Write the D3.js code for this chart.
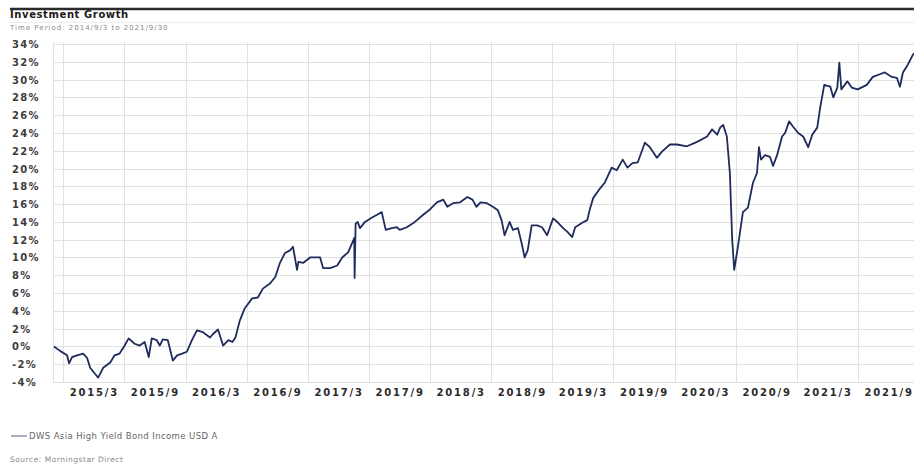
<!DOCTYPE html>
<html>
<head>
<meta charset="utf-8">
<script src="https://cdn.jsdelivr.net/npm/d3@7"></script>
<style>
  html, body { margin: 0; padding: 0; background: #fff; }
  svg { display: block; font-family: "DejaVu Sans", Verdana, sans-serif; }
</style>
</head>
<body>
<svg id="chart" width="914" height="466"></svg>
<script>
// Cumulative growth of the fund, in percent, sampled along the period
const dates = [
  "2014-09-03","2014-09-21","2014-10-12","2014-10-18","2014-10-27","2014-11-11","2014-11-29",
  "2014-12-11","2014-12-20","2015-01-04","2015-01-13","2015-01-28","2015-02-18","2015-03-03",
  "2015-03-18","2015-04-02","2015-04-14","2015-05-02","2015-05-17","2015-06-01","2015-06-13",
  "2015-06-22","2015-07-07","2015-07-16","2015-07-25","2015-08-09","2015-08-24","2015-09-06",
  "2015-09-21","2015-10-05","2015-10-20","2015-11-04","2015-11-22","2015-12-13","2015-12-22",
  "2016-01-06","2016-01-21","2016-02-06","2016-02-18","2016-02-27","2016-03-11","2016-03-26",
  "2016-04-17","2016-05-04","2016-05-19","2016-06-10","2016-06-25","2016-07-09","2016-07-24",
  "2016-08-08","2016-08-17","2016-08-29","2016-09-02","2016-09-17","2016-10-07","2016-10-28",
  "2016-11-06","2016-11-15","2016-12-06","2016-12-27","2017-01-11","2017-01-29","2017-02-14",
  "2017-02-16","2017-02-17","2017-02-20","2017-02-26","2017-03-05","2017-03-20","2017-04-10",
  "2017-04-25","2017-05-09","2017-05-21","2017-06-08","2017-06-23","2017-07-02","2017-07-23",
  "2017-08-16","2017-09-10","2017-09-30","2017-10-21","2017-11-09","2017-11-21","2017-12-08",
  "2017-12-29","2018-01-20","2018-02-04","2018-02-16","2018-02-28","2018-03-19","2018-04-06",
  "2018-04-21","2018-05-02","2018-05-11","2018-05-26","2018-06-05","2018-06-20","2018-07-01",
  "2018-07-10","2018-07-19","2018-07-31","2018-08-16","2018-08-31","2018-09-15","2018-10-03",
  "2018-10-18","2018-11-02","2018-11-14","2018-11-29","2018-12-08","2018-12-29","2019-01-13",
  "2019-01-22","2019-01-31","2019-02-21","2019-03-06","2019-03-27","2019-04-11","2019-04-29",
  "2019-05-13","2019-05-28","2019-06-13","2019-07-04","2019-07-19","2019-08-09","2019-08-24",
  "2019-09-17","2019-10-08","2019-11-07","2019-12-07","2020-01-06","2020-01-21","2020-02-05",
  "2020-02-14","2020-02-23","2020-03-05","2020-03-14","2020-03-21","2020-03-27","2020-04-07",
  "2020-04-22","2020-05-07","2020-05-22","2020-06-03","2020-06-09","2020-06-15","2020-06-27",
  "2020-07-12","2020-07-21","2020-08-02","2020-08-17","2020-08-26","2020-09-07","2020-09-19",
  "2020-10-04","2020-10-19","2020-11-03","2020-11-15","2020-11-30","2020-12-09","2020-12-21",
  "2021-01-08","2021-01-17","2021-01-29","2021-02-04","2021-02-10","2021-02-28","2021-03-13",
  "2021-03-31","2021-04-27","2021-05-15","2021-06-05","2021-06-20","2021-07-11","2021-07-26",
  "2021-08-04","2021-08-13","2021-08-28","2021-09-12","2021-09-30"
];
const growth = [
  0.0,-0.5,-1.0,-1.9,-1.2,-1.0,-0.8,
  -1.3,-2.4,-3.1,-3.5,-2.4,-1.8,-1.0,
  -0.8,0.1,0.9,0.3,0.1,0.5,-1.2,
  0.9,0.7,0.1,0.8,0.7,-1.6,-1.0,
  -0.8,-0.6,0.7,1.8,1.6,1.0,1.4,
  1.9,0.1,0.7,0.5,1.0,2.9,4.3,
  5.4,5.5,6.5,7.1,7.8,9.4,10.5,
  10.8,11.2,8.6,9.5,9.4,10.0,10.0,
  10.0,8.8,8.8,9.1,10.0,10.6,12.0,
  12.2,7.7,13.8,14.0,13.3,14.0,14.5,
  14.8,15.1,13.1,13.3,13.4,13.1,13.4,
  14.0,14.8,15.4,16.2,16.5,15.7,16.1,
  16.2,16.8,16.5,15.7,16.2,16.1,15.7,
  15.3,14.2,12.5,14.0,13.1,13.3,11.6,
  10.0,10.8,13.6,13.6,13.4,12.5,14.4,
  13.9,13.3,12.9,12.3,13.4,13.9,14.2,
  15.6,16.7,17.8,18.4,20.1,19.8,21.0,
  20.1,20.6,20.7,22.9,22.4,21.2,21.9,
  22.7,22.7,22.5,23.0,23.6,24.4,23.8,
  24.6,24.9,23.6,19.5,12.0,8.6,11.2,
  15.1,15.6,18.4,19.5,22.4,21.0,21.5,
  21.3,20.3,21.5,23.6,24.0,25.3,24.7,
  24.0,23.6,22.4,23.8,24.6,26.9,29.4,
  29.2,28.0,29.1,31.9,28.9,29.8,29.1,
  28.9,29.4,30.3,30.6,30.8,30.3,30.2,
  29.2,30.8,31.7,32.8,33.4
];
const yTicks = [-4,-2,0,2,4,6,8,10,12,14,16,18,20,22,24,26,28,30,32,34];
const xLabels = ["2015/3","2015/9","2016/3","2016/9","2017/3","2017/9","2018/3",
                 "2018/9","2019/3","2019/9","2020/3","2020/9","2021/3","2021/9"];
const seriesName = "DWS Asia High Yield Bond Income USD A";
const chartTitle = "Investment Growth";
const periodText = "Time Period: 2014/9/3 to 2021/9/30";
const sourceText = "Source: Morningstar Direct";

const parse = d3.timeParse("%Y-%m-%d");
const points = dates.map((d, i) => ({ date: parse(d), value: growth[i] }));

const svg = d3.select("#chart");
const plot = { left: 53, right: 919, top: 44, bottom: 382 };

const x = d3.scaleTime()
  .domain([parse(dates[0]), parse(dates[dates.length - 1])])
  .range([54, plot.right]);
const y = d3.scaleLinear().domain([-4, 34]).range([plot.bottom, plot.top]);

// Header rules and titles
svg.append("line").attr("x1", 10).attr("x2", 914).attr("y1", 9).attr("y2", 9)
  .attr("stroke", "#2b2b2b").attr("stroke-width", 2.5);
svg.append("line").attr("x1", 10).attr("x2", 914).attr("y1", 22.5).attr("y2", 22.5)
  .attr("stroke", "#ececec").attr("stroke-width", 1);
svg.append("text").attr("x", 10).attr("y", 18)
  .attr("font-size", 10).attr("font-weight", "bold").attr("letter-spacing", 0.6)
  .attr("fill", "#1a1a1a").text(chartTitle);
svg.append("text").attr("x", 10).attr("y", 30)
  .attr("font-size", 7).attr("letter-spacing", 1).attr("fill", "#8a8a8a").text(periodText);

// Six-month period boundaries (first of April / October)
const bounds = d3.range(xLabels.length + 1).map(k => new Date(2014, 9 + 6 * k, 1));

const grid = svg.append("g").attr("stroke", "#e1e1e1").attr("stroke-width", 1);
grid.selectAll("line.h").data(yTicks).join("line")
  .attr("x1", plot.left).attr("x2", 914)
  .attr("y1", d => Math.round(y(d)) + 0.5).attr("y2", d => Math.round(y(d)) + 0.5);
grid.selectAll("line.v").data([null].concat(bounds)).join("line")
  .attr("x1", d => d === null ? plot.left + 0.5 : Math.round(x(d)) + 0.5)
  .attr("x2", d => d === null ? plot.left + 0.5 : Math.round(x(d)) + 0.5)
  .attr("y1", plot.top - 2).attr("y2", plot.bottom);

// Y axis labels
const yAxis = svg.append("g")
  .call(d3.axisLeft(y).tickValues(yTicks).tickFormat(d => d + "%").tickSize(0));
yAxis.select(".domain").remove();
yAxis.selectAll("text")
  .attr("x", 12).attr("text-anchor", "start").attr("dy", "0.35em")
  .attr("font-family", "DejaVu Sans, Verdana, sans-serif")
  .attr("font-size", 10).attr("font-weight", "bold").attr("letter-spacing", 1.3)
  .attr("fill", "#3d3d3d");

// X axis labels, centred within each six-month period
const mids = xLabels.map((l, i) => new Date((bounds[i].getTime() + bounds[i + 1].getTime()) / 2));
const xAxis = svg.append("g").attr("transform", `translate(0,${plot.bottom})`)
  .call(d3.axisBottom(x).tickValues(mids).tickFormat((d, i) => xLabels[i]).tickSize(0));
xAxis.select(".domain").remove();
xAxis.selectAll("text")
  .attr("y", 10).attr("dy", "0.35em")
  .attr("font-family", "DejaVu Sans, Verdana, sans-serif")
  .attr("font-size", 10).attr("font-weight", "bold").attr("letter-spacing", 1.8)
  .attr("fill", "#2a2a2a");

// Growth line
svg.append("path").datum(points)
  .attr("fill", "none").attr("stroke", "#1f2b5c").attr("stroke-width", 1.8)
  .attr("stroke-linejoin", "round")
  .attr("d", d3.line().x(d => x(d.date)).y(d => y(d.value)));

// Legend and source
svg.append("line").attr("x1", 11).attr("x2", 27).attr("y1", 436).attr("y2", 436)
  .attr("stroke", "#1f2b5c").attr("stroke-width", 1.5).attr("opacity", 0.5);
svg.append("text").attr("x", 29).attr("y", 439)
  .attr("font-size", 8.5).attr("letter-spacing", 0.4).attr("fill", "#666").text(seriesName);
svg.append("text").attr("x", 10).attr("y", 462)
  .attr("font-size", 7.5).attr("letter-spacing", 0.5).attr("fill", "#888").text(sourceText);
</script>
</body>
</html>
